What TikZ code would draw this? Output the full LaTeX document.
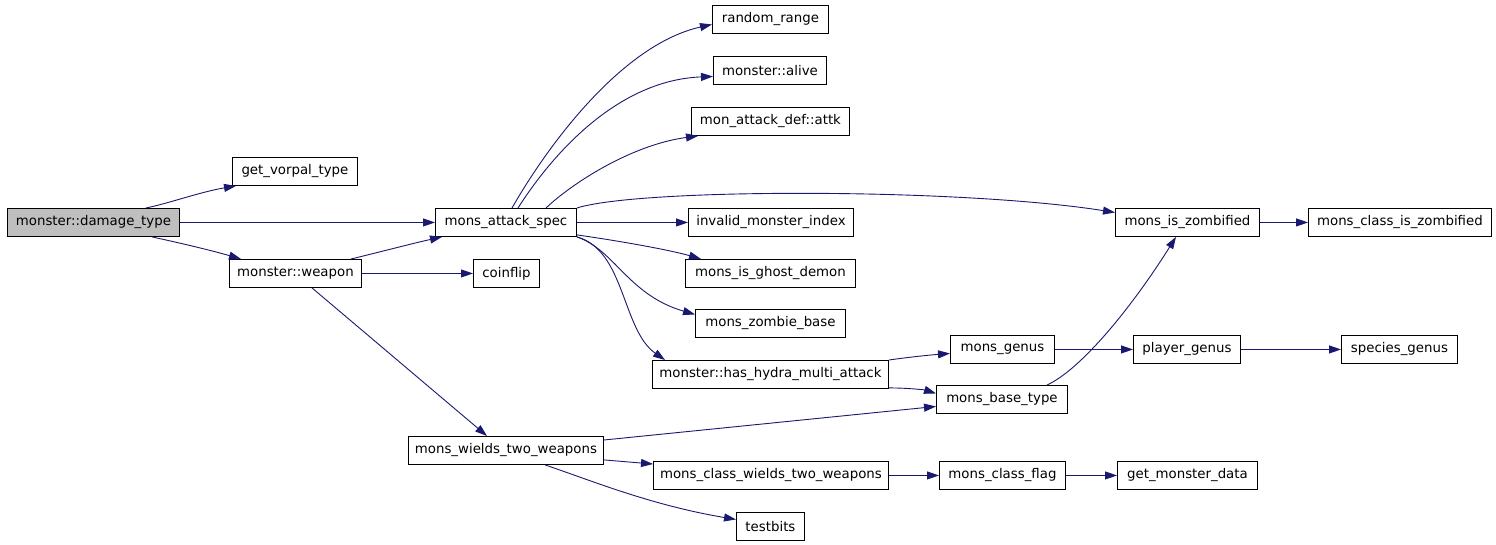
\documentclass[tikz,border=0pt]{standalone}
\usepackage{fontspec}
\setmainfont{DejaVu Sans}
\usetikzlibrary{arrows.meta}
\definecolor{edgeblue}{HTML}{191970}
\definecolor{rootgray}{HTML}{BFBFBF}
\begin{document}
\begin{tikzpicture}[x=1pt,y=-1pt,
  box/.style={draw=black,line width=0.9pt,fill=white,inner sep=0pt,anchor=north west,
    minimum height=28pt,font=\fontsize{13.33}{16}\selectfont},
  edge/.style={draw=edgeblue,line width=0.9pt,-{Triangle[length=12pt,width=8pt]}}]
\useasboundingbox (0,0) rectangle (1496,544);
\fill[white] (0,0) rectangle (1496,544);
% nodes
\node[box,fill=rootgray,minimum width=172pt] (dt) at (7,208) {monster::damage\_type};
\node[box,minimum width=125pt] (gvt) at (232,157) {get\_vorpal\_type};
\node[box,minimum width=141pt] (spec) at (435,208) {mons\_attack\_spec};
\node[box,minimum width=132pt] (weapon) at (229,259) {monster::weapon};
\node[box,minimum width=66pt] (coin) at (473,259) {coinflip};
\node[box,minimum width=116pt] (rr) at (712,5) {random\_range};
\node[box,minimum width=113pt] (alive) at (713,56) {monster::alive};
\node[box,minimum width=158pt] (attk) at (691,107) {mon\_attack\_def::attk};
\node[box,minimum width=165pt] (invalid) at (688,208) {invalid\_monster\_index};
\node[box,minimum width=170pt] (ghost) at (685,259) {mons\_is\_ghost\_demon};
\node[box,minimum width=150pt] (zb) at (695,309) {mons\_zombie\_base};
\node[box,minimum width=236pt] (hydra) at (652,360) {monster::has\_hydra\_multi\_attack};
\node[box,minimum width=104pt] (genus) at (950,335) {mons\_genus};
\node[box,minimum width=131pt] (btype) at (936,385) {mons\_base\_type};
\node[box,minimum width=195pt] (wields) at (408,436) {mons\_wields\_two\_weapons};
\node[box,minimum width=235pt] (cwields) at (653,461) {mons\_class\_wields\_two\_weapons};
\node[box,minimum width=68pt] (testbits) at (736,512) {testbits};
\node[box,minimum width=144pt] (zomb) at (1115,208) {mons\_is\_zombified};
\node[box,minimum width=183pt] (czomb) at (1308,208) {mons\_class\_is\_zombified};
\node[box,minimum width=107pt] (pgenus) at (1133,335) {player\_genus};
\node[box,minimum width=116pt] (sgenus) at (1341,335) {species\_genus};
\node[box,minimum width=126pt] (cflag) at (939,461) {mons\_class\_flag};
\node[box,minimum width=140pt] (gmd) at (1117,461) {get\_monster\_data};
% edges
\draw[edge] ([xshift=139pt]dt.north west) .. controls (170,203) and (200,192) .. ([xshift=4pt]gvt.south west);
\draw[edge] (dt.east) -- (spec.west);
\draw[edge] ([xshift=145pt]dt.south west) .. controls (180,243) and (210,250) .. ([xshift=12pt]weapon.north west);
\draw[edge] ([xshift=122pt]weapon.north west) .. controls (380,252) and (410,244) .. ([xshift=7pt]spec.south west);
\draw[edge] (weapon.east) -- (coin.west);
\draw[edge] ([xshift=83pt]weapon.south west) -- ([xshift=79pt]wields.north west);
\draw[edge] ([xshift=77pt]spec.north west) .. controls (545,150) and (620,45) .. ([yshift=-5pt]rr.west);
\draw[edge] ([xshift=83pt]spec.north west) .. controls (555,150) and (620,80) .. ([yshift=-6pt]alive.west);
\draw[edge] ([xshift=111pt]spec.north west) .. controls (570,185) and (630,145) .. ([xshift=7pt]attk.south west);
\draw[edge] (spec.north east) .. controls (640,188) and (960,188) .. ([yshift=10pt]zomb.west);
\draw[edge] (spec.east) -- (invalid.west);
\draw[edge] ([yshift=2pt]spec.south east) .. controls (620,241) and (670,250) .. ([xshift=16pt]ghost.north west);
\draw[edge] (spec.south east) .. controls (615,250) and (628,295) .. ([yshift=9pt]zb.west);
\draw[edge] (spec.south east) .. controls (625,250) and (622,330) .. ([xshift=13pt]hydra.north west);
\draw[edge] (hydra.north east) .. controls (910,357) and (930,355) .. ([yshift=-4pt]genus.west);
\draw[edge] ([yshift=1pt]hydra.south east) .. controls (910,388) and (925,390) .. ([yshift=6pt]btype.west);
\draw[edge] ([yshift=-4pt]wields.north east) -- ([yshift=-7pt]btype.west);
\draw[edge] ([yshift=5pt]wields.south east) -- ([yshift=-3pt]cwields.north west);
\draw[edge] ([xshift=137pt]wields.south west) .. controls (590,480) and (650,505) .. ([yshift=7pt]testbits.west);
\draw[edge] (cwields.east) -- (cflag.west);
\draw[edge] (cflag.east) -- (gmd.west);
\draw[edge] (genus.east) -- (pgenus.west);
\draw[edge] (pgenus.east) -- (sgenus.west);
\draw[edge] ([xshift=111pt]btype.north west) .. controls (1080,370) and (1130,310) .. ([xshift=61pt]zomb.south west);
\draw[edge] (zomb.east) -- (czomb.west);
\end{tikzpicture}
\end{document}
